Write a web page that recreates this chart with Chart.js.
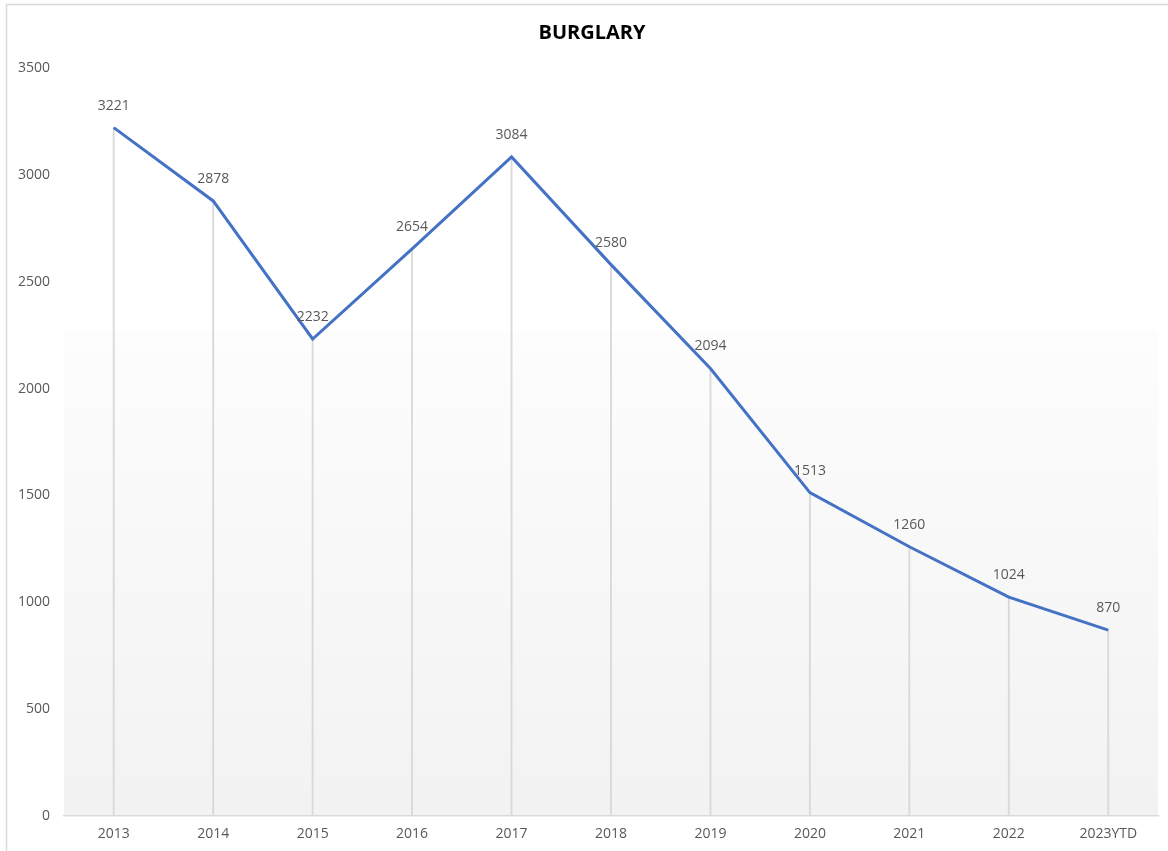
<!DOCTYPE html>
<html>
<head>
<meta charset="utf-8">
<script src="https://cdn.jsdelivr.net/npm/chart.js@4/dist/chart.umd.min.js"></script>
<style>
  html, body { margin: 0; padding: 0; background: #fff; overflow: hidden; }
  #wrap { position: absolute; left: 0; top: 0; width: 1168px; height: 851px; }
</style>
</head>
<body>
<div id="wrap"><canvas id="c" width="1168" height="851"></canvas></div>
<script>
const categories = ['2013','2014','2015','2016','2017','2018','2019','2020','2021','2022','2023YTD'];
const burglary = [3221, 2878, 2232, 2654, 3084, 2580, 2094, 1513, 1260, 1024, 870];
const yTicks = [0, 500, 1000, 1500, 2000, 2500, 3000, 3500];
const titleText = 'BURGLARY';

const FONT = '"Open Sans", "Noto Sans", sans-serif';

const bgPlugin = {
  id: 'bg',
  beforeDraw(chart) {
    const { ctx, chartArea: a } = chart;
    ctx.save();
    ctx.fillStyle = '#ffffff';
    ctx.fillRect(0, 0, chart.width, chart.height);
    const gStart = a.top + (a.bottom - a.top) * 0.35;
    const g = ctx.createLinearGradient(0, gStart, 0, a.bottom);
    g.addColorStop(0, '#fdfdfd');
    g.addColorStop(1, '#f2f2f2');
    ctx.fillStyle = g;
    ctx.fillRect(a.left, gStart, a.right - a.left, a.bottom - gStart);
    ctx.strokeStyle = '#d9d9d9';
    ctx.lineWidth = 1.5;
    ctx.strokeRect(6.5, 4.5, chart.width + 10, chart.height + 10);
    ctx.font = 'bold 20px ' + FONT;
    ctx.fillStyle = '#000000';
    ctx.textAlign = 'center';
    ctx.textBaseline = 'middle';
    ctx.fillText(titleText, 592, 33);
    ctx.restore();
  }
};

const labelPlugin = {
  id: 'pointLabels',
  afterDatasetsDraw(chart) {
    const { ctx } = chart;
    const meta = chart.getDatasetMeta(1);
    const ds = chart.data.datasets[1];
    ctx.save();
    ctx.font = '14px ' + FONT;
    ctx.fillStyle = '#595959';
    ctx.textAlign = 'center';
    ctx.textBaseline = 'middle';
    meta.data.forEach((pt, i) => {
      ctx.fillText(String(ds.data[i]), pt.x, pt.y - 22);
    });
    ctx.restore();
  }
};

new Chart(document.getElementById('c'), {
  data: {
    labels: categories,
    datasets: [
      {
        type: 'bar',
        data: burglary,
        backgroundColor: '#d9d9d9',
        barThickness: 1.2,
        order: 2
      },
      {
        type: 'line',
        data: burglary,
        borderColor: '#4472c4',
        borderWidth: 3,
        pointRadius: 0,
        tension: 0,
        fill: false,
        order: 1
      }
    ]
  },
  options: {
    responsive: false,
    animation: false,
    layout: { padding: { left: 0, right: 10, top: 68, bottom: 0 } },
    plugins: {
      legend: { display: false },
      tooltip: { enabled: false },
      title: { display: false }
    },
    scales: {
      x: {
        offset: true,
        grid: { display: false, drawTicks: false },
        border: { display: true, color: '#d9d9d9', width: 1.5 },
        ticks: { color: '#595959', font: { family: FONT, size: 14 }, padding: 10, maxRotation: 0 },
        afterFit(scale) { scale.height = 35; }
      },
      y: {
        min: 0,
        max: 3500,
        afterBuildTicks(scale) { scale.ticks = yTicks.map(v => ({ value: v })); },
        grid: { display: false, drawTicks: false },
        border: { display: false },
        ticks: { color: '#595959', font: { family: FONT, size: 14 }, padding: 14, callback: v => String(v) },
        afterFit(scale) { scale.width = 64; }
      }
    }
  },
  plugins: [bgPlugin, labelPlugin]
});
</script>
</body>
</html>
